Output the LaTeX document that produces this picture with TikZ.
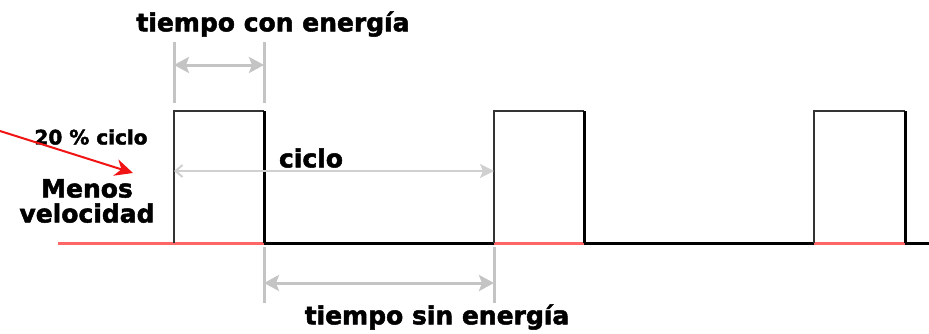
\documentclass[tikz,border=0pt]{standalone}
\usepackage{fontspec}
\setmainfont{DejaVu Sans}[BoldFeatures={FakeBold=2}]
\usepackage{xcolor}
\usetikzlibrary{arrows.meta,positioning}
\definecolor{dimgray}{RGB}{196,196,196}
\definecolor{offline}{RGB}{255,102,102}
\definecolor{pointer}{RGB}{240,20,20}

\begin{document}
\begin{tikzpicture}[x=1pt,y=-1pt,
  lbl/.style={font=\bfseries\fontsize{25}{25}\selectfont,inner sep=0pt,align=center},
  ext/.style={dimgray,line width=3pt},
  dim/.style={dimgray,line width=3pt,{Stealth[length=15pt,width=16pt,inset=3pt]}-{Stealth[length=15pt,width=16pt,inset=3pt]}},
  cyc/.style={dimgray!80,line width=2pt,{Straight Barb[length=7pt,width=12pt]}-{Stealth[length=14pt,width=14pt,inset=3pt]}},
  on/.style={offline,line width=3pt},
  off/.style={black,line width=3pt},
  rise/.style={black!80,line width=2pt},
  fall/.style={black,line width=3pt}]
  \useasboundingbox (0,0) rectangle (929,333);
  % time axis
  \coordinate (s0) at (58,243);
  \coordinate (a1) at (174,243); \coordinate (b1) at (264,243);
  \coordinate (a2) at (494,243); \coordinate (b2) at (584,243);
  \coordinate (a3) at (814,243); \coordinate (b3) at (905,243);
  \coordinate (s1) at (929,243);
  \coordinate (t1) at (174,111); \coordinate (u1) at (264,111);
  \coordinate (t2) at (494,111); \coordinate (u2) at (584,111);
  \coordinate (t3) at (814,111); \coordinate (u3) at (905,111);
  \draw[on] (s0)--(b1);
  \draw[off] (b1)--(a2);
  \draw[on] (a2)--(b2);
  \draw[off] (b2)--(a3);
  \draw[on] (a3)--(b3);
  \draw[off] (b3)--(s1);
  % pulses
  \draw[rise] (a1)--(t1)--(u1);
  \draw[fall] (u1)--(b1);
  \draw[rise] (a2)--(t2)--(u2);
  \draw[fall] (u2)--(b2);
  \draw[rise] (a3)--(t3)--(u3);
  \draw[fall] (u3)--(b3);
  % tiempo con energia
  \coordinate (c0) at (174,42); \coordinate (c1) at (174,103);
  \coordinate (d0) at (264,42); \coordinate (d1) at (264,103);
  \draw[ext] (c0)--(c1);
  \draw[ext] (d0)--(d1);
  \draw[dim] (174,65)--(264,65);
  \node[lbl] (con) at (273,24) {tiempo con energía};
  % ciclo
  \coordinate (k0) at (174,171); \coordinate (k1) at (494,171);
  \draw[cyc] (k0)--(k1);
  \node[lbl] (cyclbl) at (311,158) {ciclo};
  % tiempo sin energia
  \coordinate (e0) at (264,247); \coordinate (e1) at (264,303);
  \coordinate (f0) at (494,247); \coordinate (f1) at (494,303);
  \draw[ext] (e0)--(e1);
  \draw[ext] (f0)--(f1);
  \draw[dim] (264,283)--(494,283);
  \node[lbl] (sin) at (437,317) {tiempo sin energía};
  % left notes
  \node[lbl,font=\bfseries\fontsize{20}{20}\selectfont] (duty) at (91,137) {20 \% ciclo};
  \node[lbl] (slow) at (87,201) {Menos\\velocidad};
  \coordinate (r0) at (0,131);
  \coordinate (r1) at (133,173);
  \draw[pointer,line width=2pt,-{Stealth[length=18pt,width=17pt]}] (r0)--(r1);
\end{tikzpicture}
\end{document}
